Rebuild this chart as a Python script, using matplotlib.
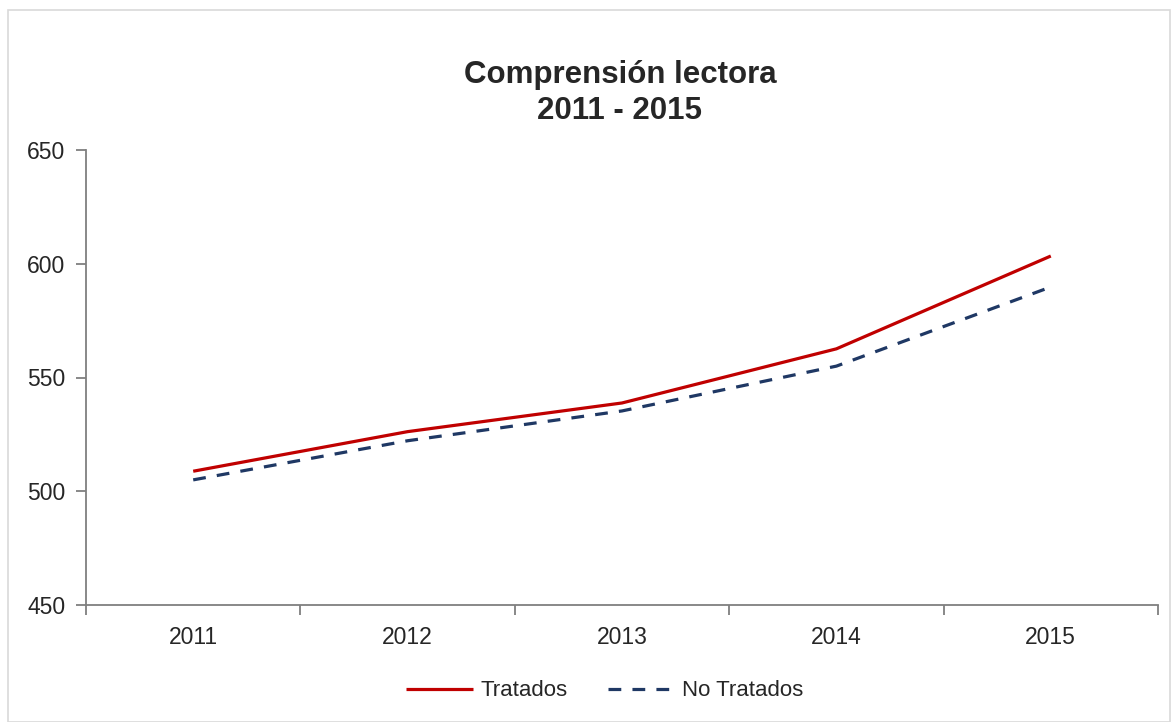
import matplotlib
matplotlib.use("Agg")
from matplotlib import pyplot as plt
from matplotlib.patches import Rectangle
import numpy as np

plt.rcParams['font.family'] = ['Liberation Sans Narrow', 'Liberation Sans', 'DejaVu Sans']

years = ["2011", "2012", "2013", "2014", "2015"]
tratados = [508.8, 526.2, 538.8, 562.6, 603.4]
no_tratados = [505.0, 522.2, 535.3, 555.0, 589.8]

axis_grey = "#7f7f7f"
text_col = "#262626"

fig = plt.figure(figsize=(11.74, 7.22), dpi=100)
ax = fig.add_axes([86 / 1174, 1 - 605 / 722, 1072 / 1174, 455 / 722])

x = np.arange(len(years))
ax.plot(x, tratados, color="#c00000", lw=2.3, label="Tratados", solid_capstyle="butt")
ax.plot(x, no_tratados, color="#1f3864", lw=2.3, ls=(0, (4, 3.5)), label="No Tratados")

ax.set_xlim(-0.5, len(years) - 0.5)
ax.set_ylim(450, 650)
ax.set_yticks(np.arange(450, 651, 50))

# category labels centred, tick marks between categories
ax.set_xticks(np.arange(-0.5, len(years), 1.0))
ax.set_xticklabels([])
ax.set_xticks(x, minor=True)
ax.set_xticklabels(years, minor=True)
ax.tick_params(axis="x", which="minor", length=0, pad=15, labelsize=16.5, labelcolor=text_col)
ax.tick_params(axis="x", which="major", length=7, width=1.3, color=axis_grey)
ax.tick_params(axis="y", length=7, width=1.3, color=axis_grey, labelsize=16.5,
               labelcolor=text_col, pad=8)

for side in ["top", "right"]:
    ax.spines[side].set_visible(False)
for side in ["left", "bottom"]:
    ax.spines[side].set_color(axis_grey)
    ax.spines[side].set_linewidth(1.3)

fig.text(0.528, 1 - 93 / 722, "Comprensión lectora\n2011 - 2015", ha="center", va="center",
         fontsize=22.5, fontweight="bold", color=text_col, linespacing=1.3)

ax.legend(loc="center", bbox_to_anchor=(0.484, (605 - 691) / 455), ncol=2, frameon=False,
          fontsize=16, handlelength=3.0, columnspacing=1.8, handletextpad=0.35,
          labelcolor=text_col)

fig.patches.append(Rectangle((8 / 1174, 0.0), 1 - 12 / 1174, 1 - 10 / 722,
                             transform=fig.transFigure, fill=False,
                             edgecolor="#d9d9d9", lw=1.2))

fig.savefig("out.png", dpi=100)
